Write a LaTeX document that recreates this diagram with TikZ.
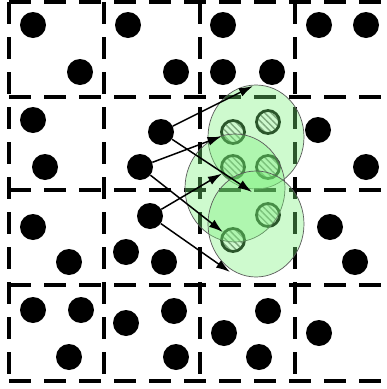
\documentclass[tikz,border=0pt]{standalone}
\usetikzlibrary{arrows.meta, patterns.meta, shapes.geometric}

\begin{document}
\begin{tikzpicture}[x=1pt, y=-1pt,
    grid/.style={line width=3.3pt, dash pattern=on 22pt off 13pt},
    dot/.style={circle, fill=black, minimum size=26pt, inner sep=0pt},
    hdot/.style={circle, draw=black, line width=2.8pt, minimum size=23pt, inner sep=0pt,
      preaction={fill=white}, pattern={Lines[angle=-45, distance=4.5pt, line width=1.4pt]}, pattern color=gray},
    cluster/.style={ellipse, draw=black!65, line width=0.7pt, fill={rgb,255:red,120;green,240;blue,120}, fill opacity=0.36, inner sep=0pt},
    arr/.style={-{Latex[length=14pt, width=9pt]}, line width=1.5pt}]
    \useasboundingbox (0,0) rectangle (387,389);
    % dashed grid
    \foreach \x in {9,104,200,295}
        \draw[grid] (\x,2) -- (\x,381);
    \foreach \y in {2,97,190,285,381}
        \draw[grid] (9,\y) -- (387,\y);
    % plain points
    \foreach \p [count=\i] in {(33,25),(80,72),(128,25),(176,72),(223,25),(223,72),(272,72),(319,25),(366,25),
        (33,120),(45,167),(318,130),(366,167),
        (33,227),(69,262),(126,252),(164,262),(330,227),(355,262),
        (33,310),(81,310),(69,357),(126,323),(174,311),(176,357),(268,311),(224,333),(259,357),(319,333)}
        \node[dot] (d\i) at \p {};
    \node[dot] (sa) at (161,132) {};
    \node[dot] (sb) at (140,167) {};
    \node[dot] (sc) at (150,216) {};
    % moved points
    \node[hdot] (h1) at (233,132) {};
    \node[hdot] (h2) at (268,122) {};
    \node[hdot] (h3) at (233,167) {};
    \node[hdot] (h4) at (268,167) {};
    \node[hdot] (h5) at (268,215) {};
    \node[hdot] (h6) at (233,240) {};
    % clusters
    \node[cluster, minimum width=96pt, minimum height=104pt] (c1) at (256,137) {};
    \node[cluster, minimum width=100pt, minimum height=108pt] (c2) at (235,188) {};
    \node[cluster, minimum width=96pt, minimum height=106pt] (c3) at (256,224) {};
    \coordinate (m) at (252,192);
    \coordinate (b) at (230,272);
    % moves
    \draw[arr] (sa) -- (253,86);
    \draw[arr] (sa) -- (m);
    \draw[arr] (sb) -- (h1);
    \draw[arr] (sb) -- (h6);
    \draw[arr] (sc) -- (h3);
    \draw[arr] (sc) -- (b);
\end{tikzpicture}
\end{document}
